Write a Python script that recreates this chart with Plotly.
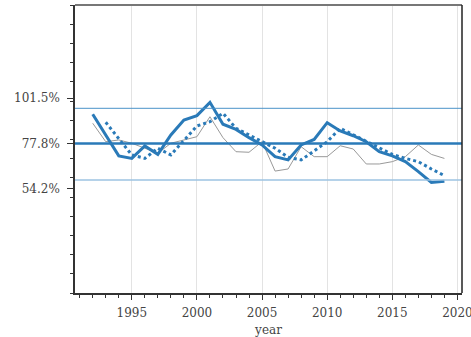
import plotly.graph_objects as go

years = list(range(1992, 2020))

actual = [88.4, 78.8, 79.7, 78.0, 75.4, 72.8, 78.0, 79.7, 81.4, 91.8, 80.9, 73.6, 73.3, 78.8,
          63.5, 64.6, 76.2, 71.0, 71.0, 76.7, 75.0, 67.2, 67.2, 68.4, 71.0, 77.1, 72.2, 70.1]

smooth = [93.1, 81.9, 71.4, 70.1, 76.6, 72.2, 82.3, 90.1, 92.4, 99.3, 87.9, 85.2, 80.9, 77.1,
          71.0, 69.3, 77.1, 80.0, 88.7, 84.4, 81.9, 78.8, 73.6, 71.4, 68.4, 63.2, 57.6, 58.2]

trend_years = list(range(1993, 2020))
trend = [88.9, 80.2, 71.9, 70.1, 75.4, 71.9, 79.7, 87.0, 89.2, 93.6, 85.8, 82.3, 78.8,
         75.4, 70.7, 69.3, 74.0, 78.8, 85.8, 82.3, 78.8, 75.4, 72.2, 70.1, 68.4, 64.6, 61.1]

mean_level = 77.8
upper_band = 96.2
lower_band = 58.9

tick_vals = [54.2, 77.8, 101.5]
tick_text = ["54.2%", "77.8%", "101.5%"]

font = dict(family="DejaVu Serif", size=12, color="#444")

fig = go.Figure()
fig.add_trace(go.Scatter(x=years, y=actual, mode="lines",
                         line=dict(color="#999999", width=1), showlegend=False))
fig.add_trace(go.Scatter(x=trend_years, y=trend, mode="lines",
                         line=dict(color="#2a7ab8", width=3, dash="dot"), showlegend=False))
fig.add_trace(go.Scatter(x=years, y=smooth, mode="lines",
                         line=dict(color="#2a7ab8", width=3), showlegend=False))

fig.add_hline(y=mean_level, line=dict(color="#2a7ab8", width=2.5))
fig.add_hline(y=upper_band, line=dict(color="#4a93c9", width=1))
fig.add_hline(y=lower_band, line=dict(color="#9cc3e2", width=1.5))

# frame: gray top, dark right
fig.add_shape(type="line", xref="paper", yref="paper", x0=0, x1=1, y0=1, y1=1,
              line=dict(color="#777777", width=2))
fig.add_shape(type="line", xref="paper", yref="paper", x0=1, x1=1, y0=0, y1=1,
              line=dict(color="#222222", width=1.5))

fig.update_layout(
    width=471, height=337,
    margin=dict(l=75, r=9, t=5, b=44, autoexpand=False),
    plot_bgcolor="white", paper_bgcolor="white",
    font=font,
    xaxis=dict(range=[1990.64, 2020.35], tickmode="linear", tick0=1995, dtick=5,
               automargin=False, ticklabeloverflow="allow",
               showgrid=True, gridcolor="#e3e3e3", gridwidth=1,
               showline=True, linecolor="#333", linewidth=1.5,
               ticks="outside", ticklen=5, tickcolor="#333",
               minor=dict(tickmode="linear", tick0=1991, dtick=1, ticks="outside",
                          ticklen=3, tickcolor="#333", showgrid=False),
               zeroline=False, ticklabelstandoff=3,
               title=dict(text="year", standoff=7, font=font)),
    yaxis=dict(range=[0, 150], tickmode="array", tickvals=tick_vals, ticktext=tick_text,
               automargin=False,
               showgrid=False, zeroline=False,
               showline=True, linecolor="#333", linewidth=1.5,
               ticks="outside", ticklen=6, tickcolor="#333",
               minor=dict(tickmode="linear", tick0=0, dtick=10, ticks="outside",
                          ticklen=3, tickcolor="#333", showgrid=False),
               ticklabelstandoff=5),
)

fig.write_html("out.html", config={"displayModeBar": False},
               post_script="document.body.style.margin='0';document.body.style.overflow='hidden';")
